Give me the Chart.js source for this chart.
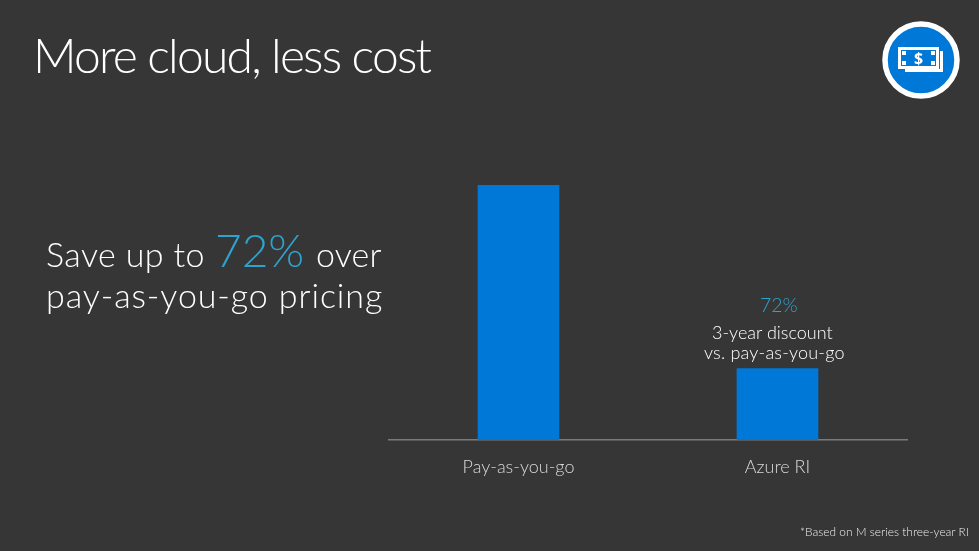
<!DOCTYPE html>
<html>
<head>
<meta charset="utf-8">
<title>More cloud, less cost</title>
<script src="https://cdn.jsdelivr.net/npm/chart.js@4/dist/chart.umd.min.js"></script>
<style>
html, body { margin: 0; padding: 0; background: #363636; overflow: hidden; }
#wrap { position: relative; width: 979px; height: 551px; font-family: "Lato", sans-serif; font-weight: 300; color: #fff; }
#wrap canvas { position: absolute; left: 0; top: 0; }
.txt { position: absolute; white-space: nowrap; line-height: 1; }
.blue { color: #2ea3cf; }
</style>
</head>
<body>
<div id="wrap">
  <canvas id="bar-chart" width="979" height="551"></canvas>
  <div class="txt" style="left:33px;top:31px;font-size:48px;letter-spacing:-1.8px">More cloud, less cost</div>
  <div class="txt" style="left:46px;top:237px;font-size:34px;letter-spacing:0.4px">Save up to</div>
  <div class="txt blue" style="left:215px;top:227px;font-size:46px">72%</div>
  <div class="txt" style="left:316px;top:237px;font-size:34px;letter-spacing:0.2px">over</div>
  <div class="txt" style="left:46px;top:278px;font-size:34px;letter-spacing:0.9px">pay-as-you-go pricing</div>
  <div class="txt blue" style="left:760px;top:295px;font-size:19.5px">72%</div>
  <div class="txt" style="left:712px;top:323px;font-size:18px">3-year discount</div>
  <div class="txt" style="left:704px;top:343px;font-size:18px;letter-spacing:0.2px">vs. pay-as-you-go</div>
  <div class="txt" style="left:800px;top:526px;font-size:11.9px;color:#eee">*Based on M series three-year RI</div>
  <svg style="position:absolute;left:880px;top:20px" width="80" height="80" viewBox="0 0 80 80">
    <circle cx="41" cy="40" r="36" fill="#0078d7" stroke="#fff" stroke-width="5.5"/>
    <path d="M25 50.5 H61.5 V31" fill="none" stroke="#fff" stroke-width="3"/>
    <rect x="19.5" y="28.5" width="38" height="19" fill="#0078d7" stroke="#fff" stroke-width="3"/>
    <rect x="22" y="31" width="4" height="4" fill="#fff"/>
    <rect x="51" y="31" width="4" height="4" fill="#fff"/>
    <rect x="22" y="41" width="4" height="4" fill="#fff"/>
    <rect x="51" y="41" width="4" height="4" fill="#fff"/>
    <text x="38.5" y="44" text-anchor="middle" font-family="Open Sans" font-weight="700" font-size="16" fill="#fff">$</text>
  </svg>
</div>
<script>
var categories = ["Pay-as-you-go", "Azure RI"];
var costValues = [100, 28];

new Chart(document.getElementById("bar-chart"), {
    type: 'bar',
    data: {
        labels: categories,
        datasets: [{
            label: "Relative cost",
            backgroundColor: "#0078d7",
            barThickness: 81,
            data: costValues
        }]
    },
    options: {
        responsive: false,
        animation: false,
        layout: { padding: { left: 389, right: 72, top: 185, bottom: 0 } },
        plugins: {
            legend: { display: false },
            title: { display: false },
            tooltip: { enabled: false }
        },
        scales: {
            x: {
                grid: { display: false, drawTicks: false },
                border: { color: "#7a7a7a", width: 1.5 },
                ticks: {
                    color: "#d9d9d9",
                    padding: 16,
                    maxRotation: 0,
                    font: { family: "Lato", size: 18, weight: 300 }
                },
                afterFit: function(scale) { scale.height = 111; }
            },
            y: { display: false, min: 0, max: 100 }
        }
    }
});
</script>
</body>
</html>
